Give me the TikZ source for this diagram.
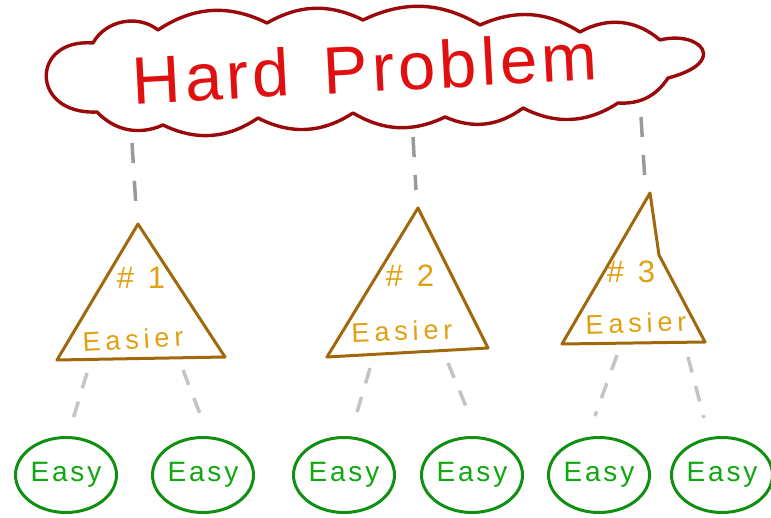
\documentclass[tikz,border=0pt]{standalone}
\usepackage{fontspec}
\setmainfont{Liberation Sans}
\newfontfamily\bigfont{Liberation Sans}[LetterSpace=6]
\newfontfamily\midfont{Liberation Sans}[LetterSpace=18]
\newfontfamily\numfont{Liberation Sans}[LetterSpace=45]
\newfontfamily\smallfont{Liberation Sans}[LetterSpace=10]
\usetikzlibrary{shapes.geometric}
\definecolor{cloudc}{HTML}{9A0A0A}
\definecolor{hardc}{HTML}{E01010}
\definecolor{trib}{HTML}{A0680A}
\definecolor{tritxt}{HTML}{E0A010}
\definecolor{easyb}{HTML}{109010}
\definecolor{easyt}{HTML}{10A810}
\definecolor{linkc}{HTML}{9A9A9A}
\definecolor{linkl}{HTML}{C4C4C4}
\begin{document}
\begin{tikzpicture}[x=1pt,y=-1pt, line join=round,
 cloudline/.style={draw=cloudc, line width=3.4pt, line cap=round},
 tri/.style={draw=trib, line width=3pt},
 tritext/.style={text=tritxt, font=\midfont\fontsize{27}{27}\selectfont, inner sep=0pt},
 numtext/.style={text=tritxt, font=\numfont\fontsize{31}{31}\selectfont, inner sep=0pt},
 hardtext/.style={text=hardc, font=\bigfont\fontsize{67}{67}\selectfont, inner sep=0pt},
 easynode/.style={ellipse, draw=easyb, line width=3pt, minimum width=101pt, minimum height=75pt, inner sep=0pt, text=easyt, font=\smallfont\fontsize{28}{28}\selectfont},
 toplink/.style={draw=linkc, line width=3.5pt, dash pattern=on 20pt off 18pt},
 lowlink/.style={draw=linkl, line width=3.5pt, dash pattern=on 16pt off 14pt}]
\useasboundingbox (0,0) rectangle (771,518);
% cloud
\draw[cloudline] (93,43) to[bend left=50] (158,30) to[bend left=30] (267,23)
  to[bend left=28] (363,20) to[bend left=28] (480,25) to[bend left=28] (580,32)
  to[bend left=35] (660,40) .. controls (700,30) and (730,62) .. (668,78)
  to[bend left=30] (618,103) to[bend left=30] (523,108) to[bend left=30] (445,117)
  to[bend left=28] (353,113) to[bend left=30] (258,118) to[bend left=30] (163,125)
  to[bend left=35] (97,112) .. controls (30,115) and (30,38) .. cycle;
\node[hardtext, rotate=3, anchor=base] (hard) at (366,92) {Hard\hspace{34pt}Problem};
% triangles
\coordinate (t1a) at (138,224); \coordinate (t1l) at (57,360); \coordinate (t1r) at (225,357);
\coordinate (t2a) at (418,208); \coordinate (t2l) at (327,357); \coordinate (t2r) at (488,348);
\coordinate (t3a) at (650,193); \coordinate (t3k) at (659,255); \coordinate (t3r) at (705,342); \coordinate (t3l) at (562,344);
\draw[tri] (t1a) -- (t1l) -- (t1r) -- cycle;
\draw[tri] (t2a) -- (t2l) -- (t2r) -- cycle;
\draw[tri] (t3a) -- (t3k) -- (t3r) -- (t3l) -- cycle;
\node[numtext] (n1) at (141,278) {\#1};
\node[tritext, rotate=3] (s1) at (133,339) {Easier};
\node[numtext] (n2) at (410,276) {\#2};
\node[tritext, rotate=2] (s2) at (402,331) {Easier};
\node[numtext] (n3) at (631,272) {\#3};
\node[tritext, rotate=2] (s3) at (636,323) {Easier};
% easy blobs
\node[easynode] (e1) at (66,475) {Easy};
\node[easynode] (e2) at (203,475) {Easy};
\node[easynode] (e3) at (344,475) {Easy};
\node[easynode] (e4) at (472,475) {Easy};
\node[easynode] (e5) at (599,475) {Easy};
\node[easynode] (e6) at (722,475) {Easy};
% links cloud -> triangles
\coordinate (c1) at (132,143); \coordinate (k1) at (136,207);
\coordinate (c2) at (413,137); \coordinate (k2) at (416,190);
\coordinate (c3) at (641,117); \coordinate (k3) at (645,182);
\draw[toplink] (c1) -- (k1);
\draw[toplink] (c2) -- (k2);
\draw[toplink] (c3) -- (k3);
% links triangles -> easy
\coordinate (a1) at (87,373); \coordinate (b1) at (73,419);
\coordinate (a2) at (183,370); \coordinate (b2) at (202,419);
\coordinate (a3) at (370,368); \coordinate (b3) at (355,419);
\coordinate (a4) at (448,363); \coordinate (b4) at (470,416);
\coordinate (a5) at (617,355); \coordinate (b5) at (595,416);
\coordinate (a6) at (688,357); \coordinate (b6) at (704,418);
\foreach \i in {1,...,6} {\draw[lowlink] (a\i) -- (b\i);}
\end{tikzpicture}
\end{document}
